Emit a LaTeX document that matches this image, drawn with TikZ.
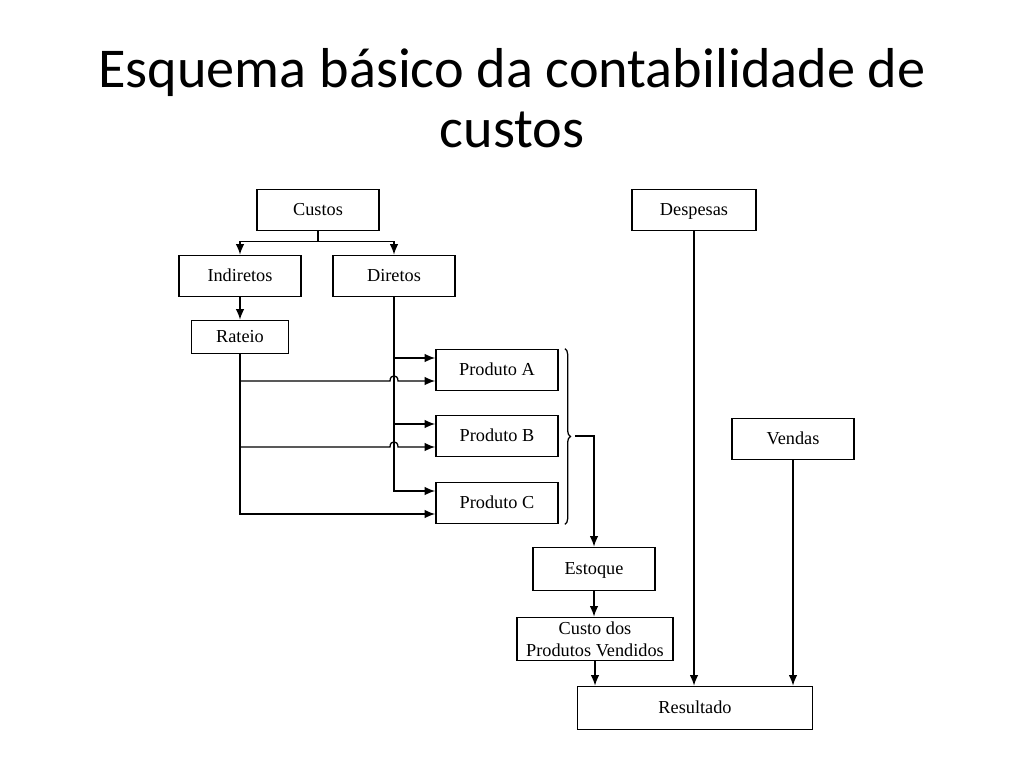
\documentclass[tikz,border=0pt]{standalone}
\usepackage{fontspec}
\setmainfont{Liberation Serif}
\newfontfamily\titulofonte{Carlito}
\usetikzlibrary{calc,arrows.meta,decorations.pathreplacing}
\def\px{0.025cm}
\tikzset{
	caixa/.style={draw,line width=1.2pt,inner sep=0pt,font=\fontsize{13}{15}\selectfont,
		text height=9pt,text depth=1pt,
		minimum width=122*\px,minimum height=41*\px},
	seta/.style={->,line width=0.9pt},
	linha/.style={line width=0.9pt}
}
\begin{document}
\begin{tikzpicture}[x=\px,y=-\px,>={Latex[length=7.5pt,width=6pt]}]
\useasboundingbox (0,0) rectangle (1024,768);
\node[anchor=base,font=\titulofonte\fontsize{40}{44}\selectfont] (titulo1) at (512,88) {Esquema básico da contabilidade de};
\node[anchor=base,font=\titulofonte\fontsize{40}{44}\selectfont] (titulo2) at (512,148) {custos};
\node[caixa] (custos) at (318,210) {Custos};
\node[caixa] (indiretos) at (240,276) {Indiretos};
\node[caixa] (diretos) at (394,276) {Diretos};
\node[caixa,minimum width=97*\px,minimum height=33*\px] (rateio) at (240,337) {Rateio};
\node[caixa] (pa) at (497,370) {Produto A};
\node[caixa] (pb) at (497,436) {Produto B};
\node[caixa] (pc) at (497,503) {Produto C};
\node[caixa,minimum width=124*\px] (despesas) at (694,210) {Despesas};
\node[caixa] (vendas) at (793,439) {Vendas};
\node[caixa,minimum height=43*\px] (estoque) at (594,569) {Estoque};
\node[caixa,minimum width=156*\px,minimum height=43*\px,align=center,text height=,text depth=,font=\fontsize{13}{15.5}\selectfont] (cpv) at (595,639) {Custo dos\\Produtos Vendidos};
\node[caixa,minimum width=235*\px,minimum height=43*\px] (resultado) at (695,708) {Resultado};
\draw[seta] (custos.south) -- ++(0,10) -| (indiretos.north);
\draw[seta] (custos.south) -- ++(0,10) -| (diretos.north);
\draw[seta] (indiretos.south) -- (rateio.north);
\foreach \p in {pa,pb,pc}{
	\draw[seta] (diretos.south) |- ($(\p.west)+(0,-12)$);
}
\foreach \p in {pa,pb}{
	\draw[seta] (rateio.south) |- ($(diretos.south |- \p.west)+(-4,11)$)
		.. controls +(0,-7) and +(0,-7) .. ++(8,0) -- ($(\p.west)+(0,11)$);
}
\draw[seta] (rateio.south) |- ($(pc.west)+(0,11)$);
\coordinate (chavetopo) at ($(pa.north east)+(6,0)$);
\coordinate (chavebase) at ($(pc.south east)+(6,0)$);
\coordinate (chaveponta) at ($(pb.east)+(16,0)$);
\draw[linha,decorate,decoration={brace,amplitude=4pt}] (chavetopo) -- (chavebase);
\draw[seta] (chaveponta) -| (estoque.north);
\draw[seta] (estoque.south) -- (estoque.south |- cpv.north);
\draw[seta] (cpv.south) -- (cpv.south |- resultado.north);
\draw[seta] (despesas.south) -- (despesas.south |- resultado.north);
\draw[seta] (vendas.south) -- (vendas.south |- resultado.north);
\end{tikzpicture}
\end{document}
